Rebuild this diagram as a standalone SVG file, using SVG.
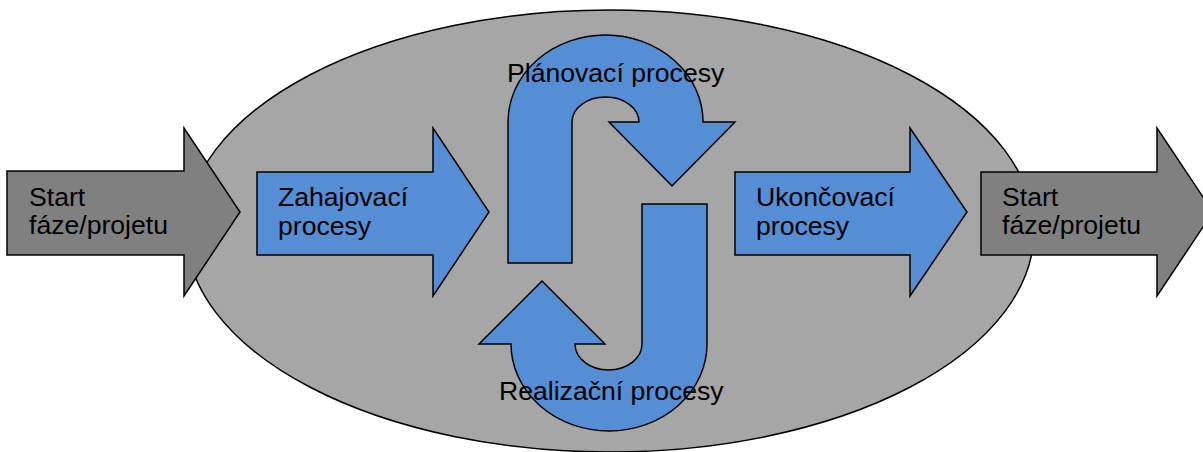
<svg xmlns="http://www.w3.org/2000/svg" width="1203" height="452" viewBox="0 0 1203 452">
<style>
.sh{stroke:#000;stroke-width:1.5;stroke-linejoin:miter}
.blue{fill:#558ED5}
.dark{fill:#808080}
.ell{fill:#A6A6A6}
text{font-family:"Liberation Sans",Arial,sans-serif;font-size:26.6px;fill:#000}
</style>
<rect width="1203" height="452" fill="#fff"/>
<g id="phase">
<ellipse class="sh ell" cx="610" cy="231" rx="424" ry="221"/>
</g>
<g id="start-left">
<path class="sh dark" d="M7,171 H184 V128 L240,212 L184,296 V255 H7 Z"/>
<text x="29" y="206">Start</text>
<text x="29" y="234">fáze/projetu</text>
</g>
<g id="zahajovaci">
<path class="sh blue" d="M257,172 H433 V128 L489,212 L433,296 V255 H257 Z"/>
<text x="278" y="206">Zahajovací</text>
<text x="278" y="235">procesy</text>
</g>
<g id="planovaci">
<path class="sh blue" d="M508,263 V122 A97.5,87 0 0 1 703,122 H735 L672,186 L609,122 H639 A33.5,25 0 0 0 572,122 V263 Z"/>
<text x="507" y="82">Plánovací procesy</text>
</g>
<g id="realizacni">
<path class="sh blue" d="M707,204 V344 A98,87 0 0 1 511,344 H479 L542,281 L605,344 H575 A33.5,26 0 0 0 642,344 V204 Z"/>
<text x="499" y="400">Realizační procesy</text>
</g>
<g id="ukoncovaci">
<path class="sh blue" d="M735,172 H910 V128 L967,212 L910,296 V255 H735 Z"/>
<text x="756" y="206">Ukončovací</text>
<text x="756" y="235">procesy</text>
</g>
<g id="start-right">
<path class="sh dark" d="M981,172 H1157 V128 L1213,212 L1157,296 V255 H981 Z"/>
<text x="1002" y="206">Start</text>
<text x="1002" y="234">fáze/projetu</text>
</g>
<g id="connectors"></g>
</svg>
